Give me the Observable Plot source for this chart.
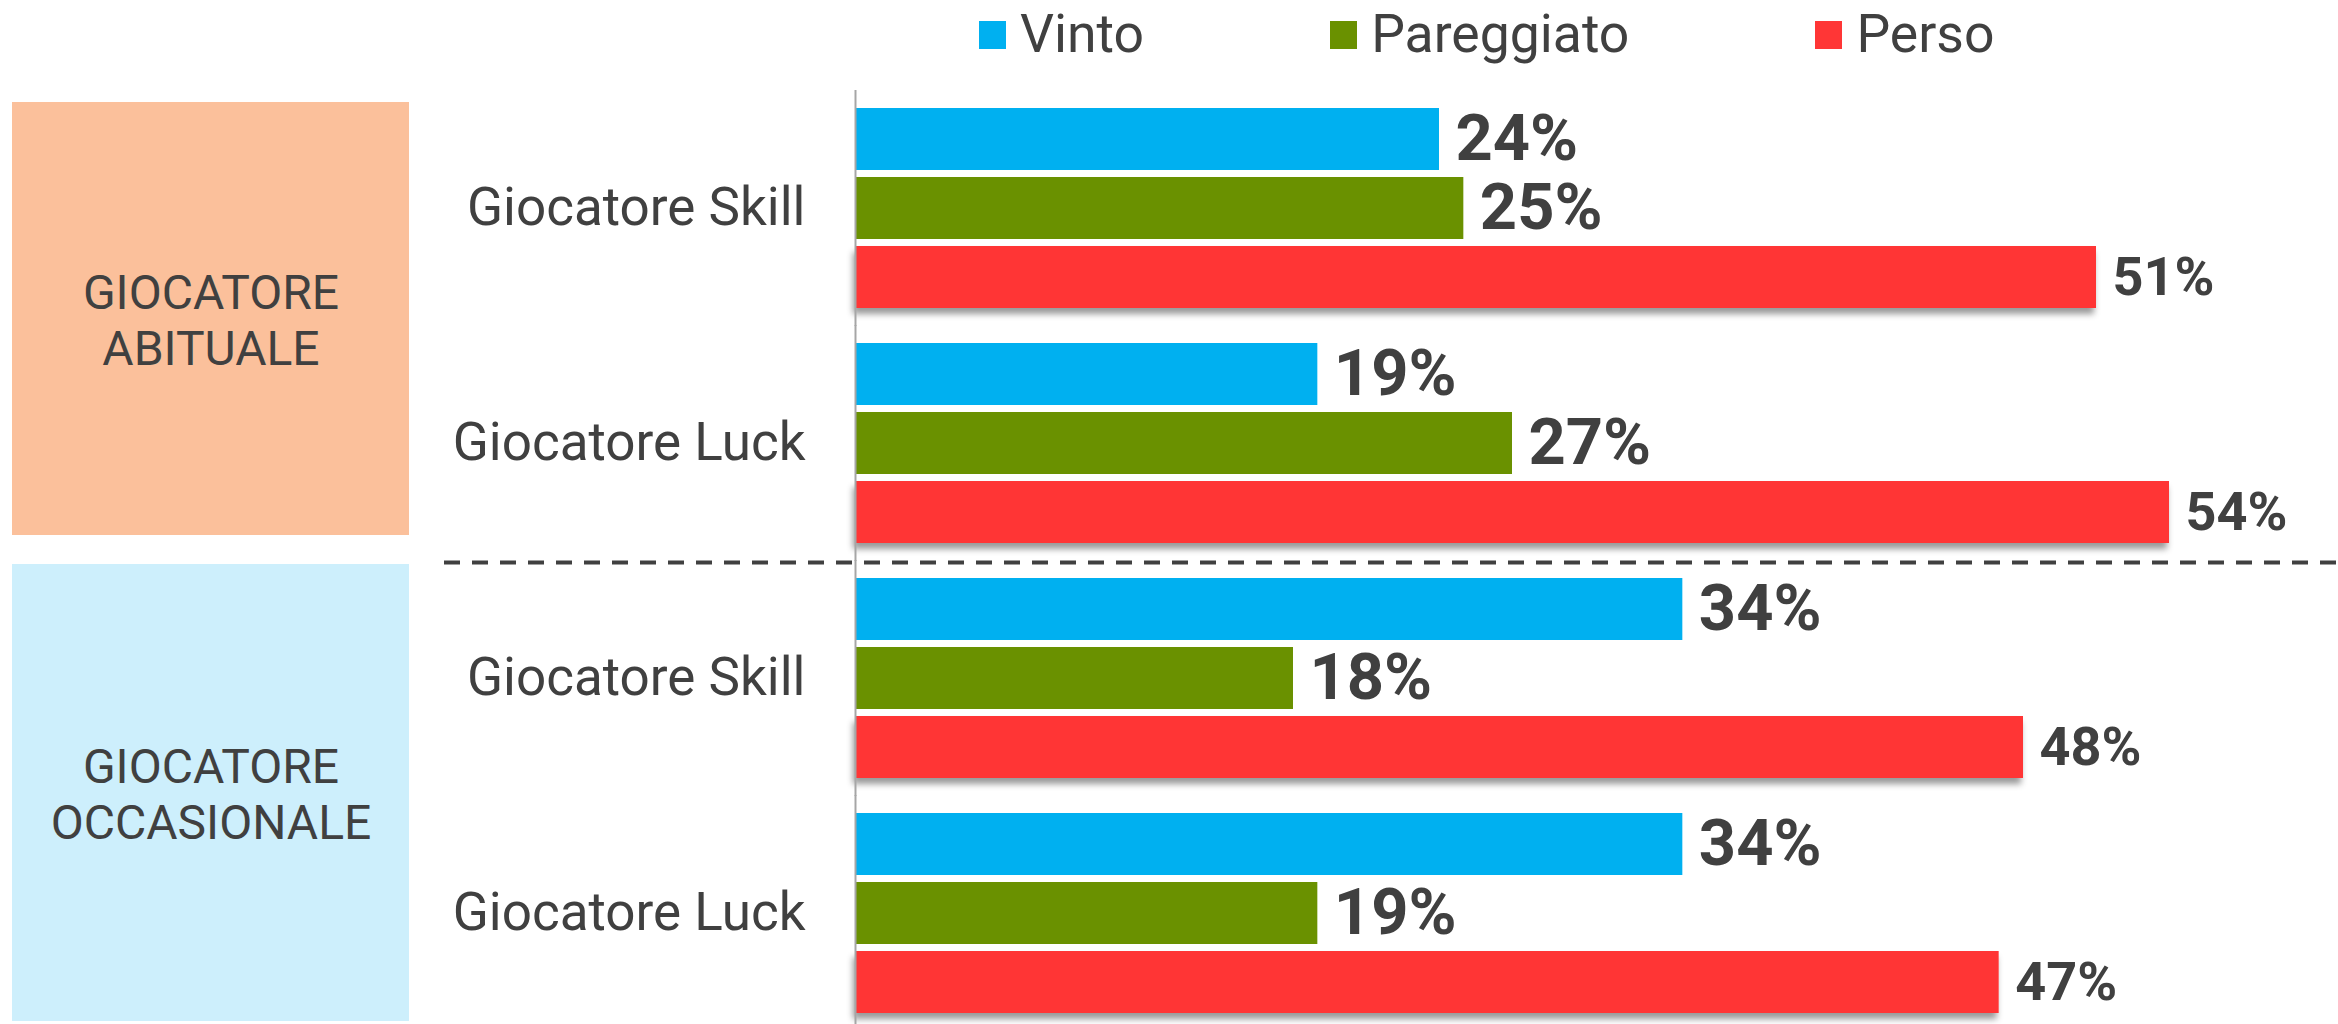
<!DOCTYPE html>
<html><head><meta charset="utf-8">
<script src="https://cdn.jsdelivr.net/npm/d3@7"></script>
<script src="https://cdn.jsdelivr.net/npm/@observablehq/plot@0.6"></script>
<style>
body{margin:0;background:#fff;font-family:Roboto,sans-serif;color:#404040;}
#legend{height:80px;display:flex;align-items:flex-start;gap:186px;padding-left:979px;padding-top:2px;box-sizing:border-box;}
.item{display:flex;align-items:flex-start;font-size:53.5px;line-height:normal;}
.sw{width:27px;height:28px;margin-right:14px;margin-top:19px;}
#chart{position:relative;width:2338px;height:944px;}
#chart svg{position:absolute;left:0;top:0;}
</style></head><body>
<div id="legend"></div>
<div id="chart"></div>
<script>
// ---- data ----
const groups = ["GIOCATORE ABITUALE", "GIOCATORE OCCASIONALE"];
const groupLabels = ["GIOCATORE\nABITUALE", "GIOCATORE\nOCCASIONALE"];
const groupColors = ["#FBC09B", "#CDEFFC"];
const rowGroups = ["GIOCATORE ABITUALE", "GIOCATORE ABITUALE", "GIOCATORE OCCASIONALE", "GIOCATORE OCCASIONALE"];
const rowLabels = ["Giocatore Skill", "Giocatore Luck", "Giocatore Skill", "Giocatore Luck"];
const series = ["Vinto", "Pareggiato", "Perso"];
const seriesColors = ["#00B0F0", "#6A9100", "#FF3636"];
const vinto = [24, 19, 34, 34];
const pareggiato = [25, 27, 18, 19];
const perso = [51, 54, 48, 47];

// ---- build tables ----
const rows = rowGroups.map((g, i) => g + "|" + rowLabels[i]);
const values = {Vinto: vinto, Pareggiato: pareggiato, Perso: perso};
const data = [];
rows.forEach((r, i) => series.forEach(s => data.push({row: r, series: s, value: values[s][i]})));
const groupData = groups.map((g, i) => ({group: g, label: groupLabels[i]}));

// ---- legend ----
const legend = document.getElementById("legend");
series.forEach((s, i) => {
  const it = document.createElement("div");
  it.className = "item";
  it.innerHTML = `<span class="sw" style="background:${seriesColors[i]}"></span><span>${s}</span>`;
  legend.appendChild(it);
});

const textColor = "#404040";

// ---- main chart ----
const main = Plot.plot({
  width: 2338, height: 944,
  marginLeft: 855, marginRight: 23, marginTop: 26, marginBottom: 8,
  style: {fontFamily: "Roboto", fontSize: "53px", color: textColor, background: "transparent"},
  x: {domain: [0, 60], axis: null},
  y: {domain: series, axis: null, paddingInner: 0.107, paddingOuter: 0},
  fy: {domain: rows, axis: "left", paddingInner: 0.14, paddingOuter: 0, tickSize: 0, tickPadding: 50,
       tickFormat: d => d.split("|")[1], label: null},
  color: {domain: series, range: seriesColors},
  marks: [
    Plot.barX(data, {x: "value", y: "series", fy: "row", fill: "series"}),
    Plot.ruleX([0], {stroke: "#a6a6a6", strokeWidth: 2, insetTop: -17, insetBottom: -17}),
    Plot.ruleY(data.filter(d => d.row === rows[2] && d.series === series[0]),
      {y: "series", fy: "row", dy: -47, insetLeft: -411, insetRight: -23,
       stroke: textColor, strokeWidth: 4, strokeDasharray: "16,12"}),
    Plot.text(data.filter(d => d.series !== "Perso"), {x: "value", y: "series", fy: "row",
      text: d => d.value + "%", textAnchor: "start", dx: 16, fontSize: 65, fontWeight: "bold", fill: textColor}),
    Plot.text(data.filter(d => d.series === "Perso"), {x: "value", y: "series", fy: "row",
      text: d => d.value + "%", textAnchor: "start", dx: 16, fontSize: 54, fontWeight: "bold", fill: textColor})
  ]
});

// drop shadow under the "Perso" bars
const ns = "http://www.w3.org/2000/svg";
const defs = document.createElementNS(ns, "defs");
defs.innerHTML = `<filter id="barShadow" x="-5%" y="-20%" width="110%" height="160%">
  <feDropShadow dx="-2" dy="6" stdDeviation="3" flood-color="#000" flood-opacity="0.4"/></filter>`;
main.insertBefore(defs, main.firstChild);
main.querySelectorAll("rect").forEach(r => {
  if ((r.getAttribute("fill") || "").toLowerCase() === seriesColors[2].toLowerCase()) r.setAttribute("filter", "url(#barShadow)");
});

// ---- group boxes ----
const boxes = Plot.plot({
  width: 420, height: 944,
  marginLeft: 12, marginRight: 11, marginTop: 16, marginBottom: 8,
  style: {fontFamily: "Roboto", fontSize: "48px", color: textColor, background: "transparent"},
  x: {domain: [0, 1], axis: null},
  y: {domain: groups, axis: null, paddingInner: 0.061, paddingOuter: 0},
  color: {domain: groups, range: groupColors},
  marks: [
    Plot.barX(groupData.slice(0, 1), {x: () => 1, y: "group", fill: "group", insetTop: 6, insetBottom: 6}),
    Plot.barX(groupData.slice(1), {x: () => 1, y: "group", fill: "group", insetTop: -6, insetBottom: -6}),
    Plot.text(groupData, {y: "group", text: "label", frameAnchor: "middle", fontSize: 48, lineHeight: 1.17, fill: textColor})
  ]
});

const chart = document.getElementById("chart");
chart.appendChild(main);
chart.appendChild(boxes);
</script>
</body></html>
